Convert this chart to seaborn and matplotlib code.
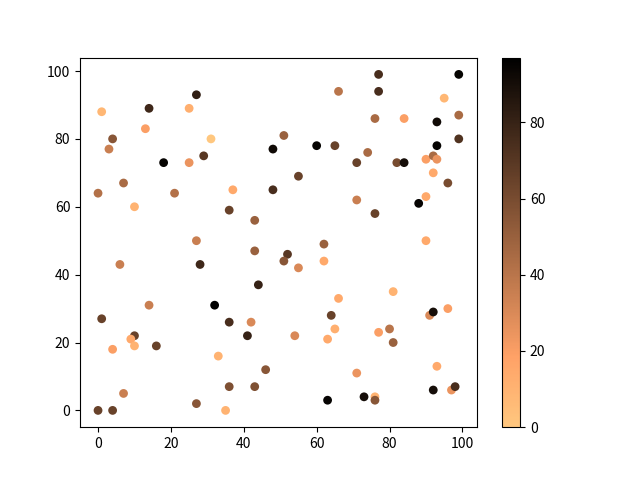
import matplotlib
matplotlib.use("Agg")
import matplotlib.pyplot as plt
import matplotlib as mpl
import pandas as pd
import seaborn as sns

xs = [1, 14, 25, 27, 13, 4, 3, 31, 29, 18, 25, 7, 0, 21, 10, 27, 28, 6, 14, 32,
      37, 48, 36, 43, 43, 62, 62, 52, 51, 55, 44, 66, 55, 48, 51, 60, 65, 66, 77, 77,
      99, 95, 76, 84, 93, 99, 99, 93, 74, 71, 82, 84, 90, 92, 93, 92, 96, 71, 76, 88,
      90, 90, 81, 1, 10, 9, 10, 4, 16, 33, 7, 0, 4, 27, 36, 42, 41, 64, 65, 63,
      54, 46, 36, 43, 63, 35, 96, 91, 92, 80, 77, 81, 93, 71, 92, 97, 98, 73, 76, 76]
ys = [88, 89, 89, 93, 83, 80, 77, 80, 75, 73, 73, 67, 64, 64, 60, 50, 43, 43, 31, 31,
      65, 65, 59, 56, 47, 49, 44, 46, 44, 42, 37, 33, 69, 77, 81, 78, 78, 94, 99, 94,
      99, 92, 86, 86, 85, 87, 80, 78, 76, 73, 73, 73, 74, 75, 74, 70, 67, 62, 58, 61,
      63, 50, 35, 27, 22, 21, 19, 18, 19, 16, 5, 0, 0, 2, 26, 26, 22, 28, 24, 21,
      22, 12, 7, 7, 3, 0, 30, 28, 29, 24, 23, 20, 13, 11, 6, 6, 7, 4, 4, 3]
cs = [8, 78, 12, 82, 20, 55, 35, 0, 70, 95, 25, 45, 42, 42, 10, 35, 78, 35, 35, 97,
      15, 75, 65, 50, 50, 50, 15, 70, 55, 30, 80, 15, 65, 92, 50, 95, 65, 40, 75, 75,
      95, 8, 45, 20, 92, 45, 72, 95, 45, 65, 60, 90, 20, 45, 25, 15, 60, 35, 65, 95,
      15, 15, 10, 65, 65, 15, 10, 20, 65, 10, 35, 65, 65, 55, 75, 30, 80, 65, 12, 15,
      30, 55, 58, 58, 95, 10, 20, 30, 90, 40, 20, 50, 15, 25, 90, 25, 75, 90, 10, 55]

df = pd.DataFrame({"x": xs, "y": ys, "c": cs})

plt.rcParams['font.family'] = ['Noto Sans CJK SC', 'DejaVu Sans']
fig, ax = plt.subplots(figsize=(6.4, 4.8), dpi=100)
norm = mpl.colors.Normalize(vmin=min(cs), vmax=max(cs))
sns.scatterplot(data=df, x="x", y="y", hue="c", palette="copper_r", hue_norm=norm,
                legend=False, s=40, linewidth=0, ax=ax)
ax.set_xlabel("")
ax.set_ylabel("")
sm = mpl.cm.ScalarMappable(norm=norm, cmap="copper_r")
fig.colorbar(sm, ax=ax)
fig.savefig("out.png")
